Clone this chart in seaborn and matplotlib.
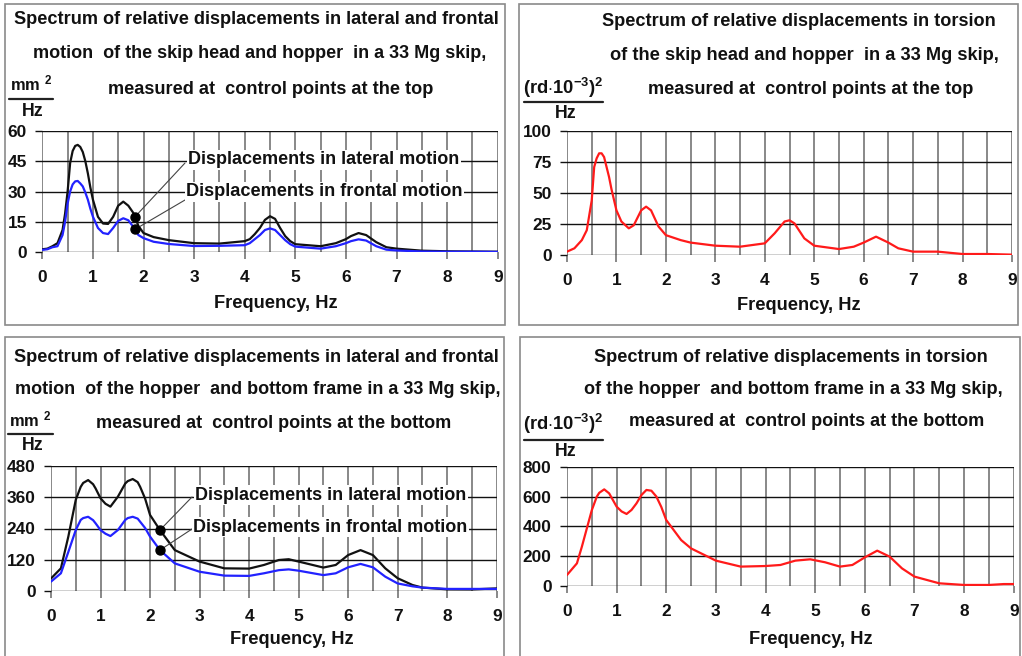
import numpy as np
import matplotlib
matplotlib.use("Agg")
import matplotlib.pyplot as plt
import seaborn as sns
from matplotlib.patches import Rectangle
from matplotlib.lines import Line2D

# ---------------- data ----------------
freq_tl = [0, 0.1, 0.2, 0.3, 0.4, 0.45, 0.5, 0.55, 0.6, 0.65, 0.7, 0.75, 0.8, 0.85, 0.9, 0.95,
           1.0, 1.1, 1.2, 1.3, 1.4, 1.5, 1.6, 1.7, 1.8, 1.9, 2.0, 2.2, 2.5, 3.0, 3.5, 4.0,
           4.1, 4.2, 4.3, 4.4, 4.5, 4.6, 4.7, 4.8, 4.9, 5.0, 5.5, 5.8, 6.0, 6.1, 6.25, 6.4,
           6.6, 6.8, 7.0, 7.5, 8.0, 8.5, 9.0]
lateral_tl = [1.5, 1.8, 3, 4.5, 11, 19, 30, 44, 50, 52.5, 53, 52, 49.5, 45, 39, 32,
              26, 17.5, 14.2, 14, 17.5, 23, 25, 23, 19.4, 13, 9.5, 7.5, 6, 4.5, 4.3, 5.5,
              6.5, 9, 12, 16, 17.8, 16.5, 12, 8, 5.5, 4, 3, 4.5, 6.5, 8, 9.5, 8.5,
              5, 2.5, 1.8, 0.8, 0.5, 0.4, 0.3]
frontal_tl = [1.2, 1.5, 2.5, 3, 8.5, 15, 24, 30, 33.5, 35, 35.2, 34, 32.5, 29.5, 26, 21.5,
              17.6, 12, 9.5, 9, 12, 15.5, 16.8, 15.8, 12.5, 8.5, 7, 5.2, 4.1, 3.1, 3.2, 3.5,
              4.5, 6.5, 8.5, 11, 11.8, 11, 8.5, 6, 4, 2.8, 1.8, 3, 4.5, 5.5, 6.4, 5.8,
              3, 1.3, 0.9, 0.4, 0.3, 0.3, 0.2]

freq_tr = [0, 0.15, 0.3, 0.4, 0.5, 0.55, 0.6, 0.65, 0.7, 0.75, 0.85, 0.9, 1.0, 1.1, 1.25, 1.35,
           1.5, 1.6, 1.7, 1.85, 2.0, 2.3, 2.5, 3.0, 3.5, 4.0, 4.2, 4.4, 4.5, 4.6, 4.8, 5.0,
           5.5, 5.8, 6.0, 6.25, 6.5, 6.7, 7.0, 7.5, 8.0, 8.5, 9.0]
torsion_tr = [2.7, 5.4, 12, 20, 44, 71, 78, 82, 82, 79, 63, 53, 36, 27, 21.5, 24,
              36, 39, 36, 23, 16, 12, 10, 7.5, 6.7, 9.4, 17.5, 27, 28, 25.5, 13.4, 7.5,
              4.8, 6.7, 10, 14.8, 10, 5.4, 2.7, 2.7, 0.8, 0.8, 0.3]

freq_bl = [0, 0.2, 0.35, 0.5, 0.6, 0.65, 0.75, 0.85, 0.9, 1.0, 1.1, 1.2, 1.35, 1.5, 1.55,
           1.65, 1.75, 1.8, 1.9, 2.0, 2.2, 2.5, 3.0, 3.5, 4.0, 4.3, 4.6, 4.8, 5.0, 5.5,
           5.75, 6.0, 6.25, 6.5, 6.75, 7.0, 7.3, 7.5, 8.0, 8.5, 9.0]
lateral_bl = [48, 87, 209, 350, 400, 415, 426, 410, 394, 356, 335, 324, 362, 413, 422,
              430, 418, 400, 355, 292, 234, 157, 113, 87, 86, 100, 119, 122, 113, 90,
              100, 138, 157, 138, 87, 49, 23, 13, 6.4, 6, 10]
frontal_bl = [36, 68, 150, 234, 273, 280, 285, 272, 260, 234, 220, 211, 234, 273, 280,
              285, 278, 266, 242, 209, 157, 106, 74, 59, 58, 68, 80, 83, 78, 61,
              68, 91, 104, 91, 55, 29, 18, 13, 8, 8, 8]

freq_br = [0, 0.2, 0.3, 0.5, 0.6, 0.65, 0.75, 0.85, 1.0, 1.1, 1.2, 1.3, 1.4, 1.5, 1.6,
           1.7, 1.8, 1.9, 2.0, 2.3, 2.5, 3.0, 3.5, 4.0, 4.3, 4.6, 4.9, 5.2, 5.5, 5.75,
           6.0, 6.25, 6.5, 6.75, 7.0, 7.5, 8.0, 8.5, 8.8, 9.0]
torsion_br = [74, 152, 264, 509, 599, 625, 648, 621, 532, 500, 483, 510, 554, 610, 644,
              639, 600, 530, 442, 308, 252, 170, 130, 134, 141, 170, 179, 159, 130, 141,
              192, 237, 197, 118, 63, 18, 7, 7, 13, 13]

x_ticks = [0, 1, 2, 3, 4, 5, 6, 7, 8, 9]
y_ticks_tl = [0, 15, 30, 45, 60]
y_ticks_tr = [0, 25, 50, 75, 100]
y_ticks_bl = [0, 120, 240, 360, 480]
y_ticks_br = [0, 200, 400, 600, 800]

label_lateral = "Displacements in lateral motion"
label_frontal = "Displacements in frontal motion"
xlabel = "Frequency, Hz"
titles_tl = ["Spectrum of relative displacements in lateral and frontal",
             "motion  of the skip head and hopper  in a 33 Mg skip,",
             "measured at  control points at the top"]
titles_tr = ["Spectrum of relative displacements in torsion",
             "of the skip head and hopper  in a 33 Mg skip,",
             "measured at  control points at the top"]
titles_bl = ["Spectrum of relative displacements in lateral and frontal",
             "motion  of the hopper  and bottom frame in a 33 Mg skip,",
             "measured at  control points at the bottom"]
titles_br = ["Spectrum of relative displacements in torsion",
             "of the hopper  and bottom frame in a 33 Mg skip,",
             "measured at  control points at the bottom"]
anno_freq_tl = 1.83
anno_freq_bl = 2.2

# ---------------- style ----------------
sns.set_theme(style="white")
plt.rcParams['font.family'] = ['Liberation Sans', 'DejaVu Sans']
plt.rcParams['font.weight'] = 'bold'
plt.rcParams['mathtext.fontset'] = 'custom'
plt.rcParams['mathtext.rm'] = 'Liberation Sans:bold'
plt.rcParams['mathtext.bf'] = 'Liberation Sans:bold'
plt.rcParams['mathtext.it'] = 'Liberation Sans:bold'
plt.rcParams['mathtext.default'] = 'rm'

W, H = 1022, 656
fig = plt.figure(figsize=(W / 100, H / 100), dpi=100)
fig.patch.set_facecolor('white')
renderer = fig.canvas.get_renderer()

FS = 11.2
BLACK = '#111111'
BLUE = '#2222ff'
RED = '#ff1a1a'
VGRID = '#7f7f7f'


def fx(x):
    return x / W


def fy(y):
    return 1 - y / H


def fit(t, target_w):
    w = t.get_window_extent(renderer).width
    t.set_fontsize(t.get_fontsize() * target_w / w)


def ptext(x, y, s, target_w=None, **kw):
    kw.setdefault('fontsize', FS)
    kw.setdefault('fontweight', 'bold')
    kw.setdefault('color', '#111111')
    t = fig.text(fx(x), fy(y), s, **kw)
    if target_w is not None:
        fit(t, target_w)
    return t


def make_axes(l, r, t, b):
    return fig.add_axes([fx(l), fy(b), fx(r) - fx(l), (b - t) / H])


def style_axes(ax, yticks):
    ax.set_xlim(0, 9)
    ax.set_ylim(yticks[0], yticks[-1])
    for s in ax.spines.values():
        s.set_visible(False)
    ax.set_xticks(x_ticks)
    ax.set_xticks(np.arange(0, 9.01, 0.5), minor=True)
    ax.set_yticks(yticks)
    ax.set_xticklabels([str(v) for v in x_ticks], fontsize=FS + 1.2, fontweight='bold')
    ax.set_yticklabels([str(v) for v in yticks], fontsize=FS + 1.2, fontweight='bold')
    ax.grid(False)
    ax.xaxis.grid(True, which='both', color=VGRID, lw=1.3, zorder=0)
    ax.yaxis.grid(True, which='major', color='#111111', lw=1.0, zorder=0)
    ax.set_axisbelow(True)
    ax.tick_params(axis='x', which='major', length=5, width=1.3, color=VGRID, pad=8,
                   labelcolor='#111111', bottom=True)
    ax.tick_params(axis='x', which='minor', length=0)
    ax.tick_params(axis='y', which='major', length=5, width=1.0, color='#111111', pad=6,
                   labelcolor='#111111', left=True)
    ax.set_xlabel('')
    ax.set_ylabel('')
    ax.set_facecolor('white')


def panel_box(l, t, r, b):
    fig.patches.append(Rectangle((fx(l), fy(b)), fx(r) - fx(l), (b - t) / H,
                                 transform=fig.transFigure, fill=False,
                                 edgecolor='#8a8a8a', lw=1.2, zorder=0))


def unit_label(xl, xr, y_top, y_line, y_hz, top_text, top_w):
    ptext((xl + xr) / 2, y_top, top_text, target_w=top_w, ha='center', va='center',
          fontsize=FS + 1)
    fig.add_artist(Line2D([fx(xl), fx(xr)], [fy(y_line), fy(y_line)],
                          transform=fig.transFigure, color='#222222', lw=1.6))
    ptext((xl + xr) / 2 + 2, y_hz, "Hz", ha='center', va='center', fontsize=FS + 1.5)


def annotate(ax, freqs, values, f0, start_px, text_px, label, target_w):
    yv = float(np.interp(f0, freqs, values))
    ax.annotate('', xy=(f0, yv), xycoords='data',
                xytext=(start_px[0], H - start_px[1]), textcoords='figure pixels',
                arrowprops=dict(arrowstyle='-', lw=0.8, color='#444444',
                                shrinkA=0, shrinkB=0), zorder=4)
    ax.plot([f0], [yv], 'o', color='black', ms=6.5, zorder=5)
    t = fig.text(fx(text_px[0]), fy(text_px[1]), label, ha='left', va='center',
                 fontsize=FS + 1, fontweight='bold', color='#111111', zorder=6,
                 bbox=dict(facecolor='white', edgecolor='none', pad=1.0))
    fit(t, target_w)
    return t


LW = 1.6

# panel frames
panel_box(5, 4, 505, 325)
panel_box(519, 4, 1018, 325)
panel_box(5, 337, 504, 660)
panel_box(520, 337, 1020, 660)

# ---------- top-left ----------
ax1 = make_axes(42.3, 497.7, 130.7, 252.3)
style_axes(ax1, y_ticks_tl)
sns.lineplot(x=freq_tl, y=lateral_tl, ax=ax1, color=BLACK, lw=LW, zorder=3)
sns.lineplot(x=freq_tl, y=frontal_tl, ax=ax1, color=BLUE, lw=LW, zorder=3)
annotate(ax1, freq_tl, lateral_tl, anno_freq_tl, (185, 163), (188, 160), label_lateral, 271)
annotate(ax1, freq_tl, frontal_tl, anno_freq_tl, (185, 200), (186, 192), label_frontal, 276)
for s, (cx, cy, w) in zip(titles_tl, [(256, 20, 483), (260, 54, 453), (271, 89, 324)]):
    ptext(cx, cy, s, target_w=w, ha='center', va='center')
unit_label(9, 53, 83, 99, 112, "mm $^{2}$", 42)
ptext(276, 304, xlabel, target_w=123, ha='center', va='center')

# ---------- top-right ----------
ax2 = make_axes(567, 1012, 131, 255)
style_axes(ax2, y_ticks_tr)
sns.lineplot(x=freq_tr, y=torsion_tr, ax=ax2, color=RED, lw=LW, zorder=3)
for s, (cx, cy, w) in zip(titles_tr, [(799, 21, 392), (804, 55, 388), (811, 90, 324)]):
    ptext(cx, cy, s, target_w=w, ha='center', va='center')
unit_label(524, 603, 88, 102, 114, r"(rd$\cdot$10$^{-3}$)$^{2}$", 80)
ptext(799, 305, xlabel, target_w=123, ha='center', va='center')

# ---------- bottom-left ----------
ax3 = make_axes(51, 496.7, 466, 591)
style_axes(ax3, y_ticks_bl)
sns.lineplot(x=freq_bl, y=lateral_bl, ax=ax3, color=BLACK, lw=LW, zorder=3)
sns.lineplot(x=freq_bl, y=frontal_bl, ax=ax3, color=BLUE, lw=LW, zorder=3)
annotate(ax3, freq_bl, lateral_bl, anno_freq_bl, (192, 497), (195, 495), label_lateral, 270)
annotate(ax3, freq_bl, frontal_bl, anno_freq_bl, (192, 529), (193, 527), label_frontal, 274)
for s, (cx, cy, w) in zip(titles_bl, [(256, 357, 483), (258, 390, 483), (274, 423, 355)]):
    ptext(cx, cy, s, target_w=w, ha='center', va='center')
unit_label(8, 53, 419, 434, 446, "mm $^{2}$", 42)
ptext(292, 640, xlabel, target_w=123, ha='center', va='center')

# ---------- bottom-right ----------
ax4 = make_axes(567, 1013.7, 466.7, 586)
style_axes(ax4, y_ticks_br)
sns.lineplot(x=freq_br, y=torsion_br, ax=ax4, color=RED, lw=LW, zorder=3)
for s, (cx, cy, w) in zip(titles_br, [(791, 358, 392), (793, 389, 417), (807, 421, 355)]):
    ptext(cx, cy, s, target_w=w, ha='center', va='center')
unit_label(524, 603, 424, 440, 452, r"(rd$\cdot$10$^{-3}$)$^{2}$", 80)
ptext(811, 640, xlabel, target_w=123, ha='center', va='center')

for ax in (ax1, ax2, ax3, ax4):
    leg = ax.get_legend()
    if leg is not None:
        leg.remove()

fig.savefig("out.png", dpi=100, facecolor='white')
